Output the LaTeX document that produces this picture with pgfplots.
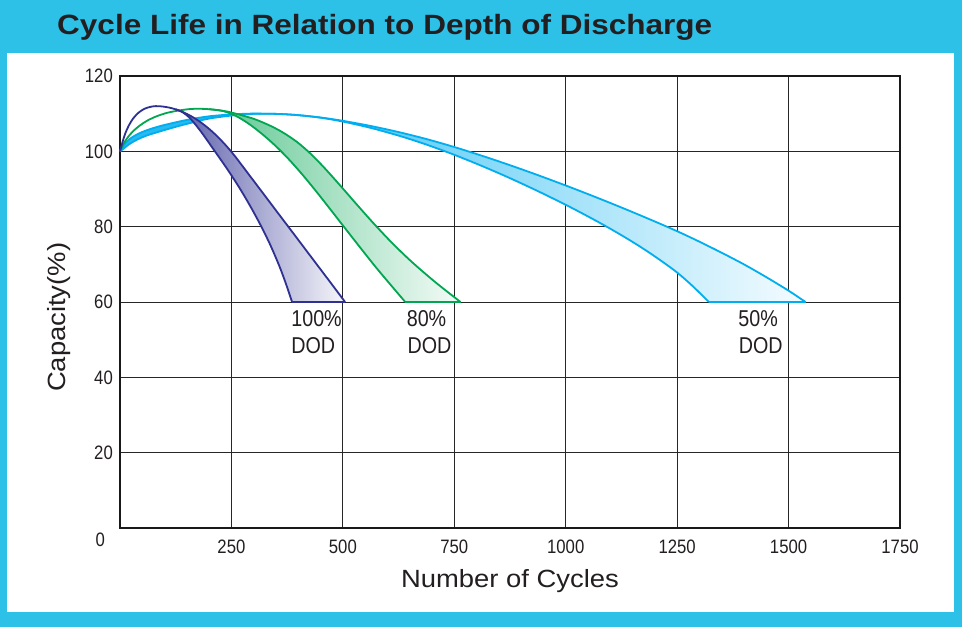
\documentclass[border=0pt]{standalone}
\usepackage{pgfplots}
\pgfplotsset{compat=1.18}
\usepackage{fontspec}
\setmainfont{Liberation Sans}
\newfontfamily\condfont{Liberation Sans}[FakeStretch=0.86]
\newfontfamily\widefont{Liberation Sans}[FakeStretch=1.1]
\newfontfamily\titlefont{Liberation Sans Bold}[FakeStretch=1.13]
\definecolor{frame}{HTML}{2EC1E8}
\definecolor{dblue}{HTML}{2E3192}
\definecolor{dgreen}{HTML}{00A651}
\definecolor{dcyan}{HTML}{00AEEF}
\definecolor{txt}{HTML}{231F20}
\begin{document}
\begin{tikzpicture}
\fill[frame] (-120bp,-99bp) rectangle (842bp,528bp);
\fill[white] (-113bp,-84bp) rectangle (834bp,475bp);
\node[anchor=base west, font=\titlefont\fontsize{28}{32}\selectfont, text=txt, inner sep=0pt] at (-63bp,493bp) {Cycle Life in Relation to Depth of Discharge};
\begin{axis}[
  scale only axis, width=780bp, height=452bp,
  at={(0,0)}, anchor=south west,
  xmin=0, xmax=1750, ymin=0, ymax=120,
  xtick={250,500,750,1000,1250,1500,1750},
  xticklabels={250,500,750,1000,1250,1500,1750},
  ytick={20,40,60,80,100,120},
  yticklabels={20,40,60,80,100,120},
  extra y ticks={0}, extra y tick labels={0},
  extra y tick style={grid=none, y tick label style={yshift=-12bp, xshift=-8bp}},
  major tick length=0pt,
  grid=major, major grid style={line width=0.9bp, color=black!85},
  axis line style={line width=1.3bp, black!90},
  tick label style={font=\condfont\fontsize{19.5}{22}\selectfont, text=txt},
  x tick label style={anchor=north, inner sep=0pt, yshift=-12bp},
  y tick label style={anchor=east, inner sep=0pt, xshift=-7bp},
  xlabel={Number of Cycles}, ylabel={Capacity(\%)},
  label style={font=\widefont\fontsize{25}{28}\selectfont, text=txt, inner sep=0pt},
  xlabel style={at={([yshift=-59bp]axis description cs:0.5,0)}, anchor=base},
  ylabel style={at={([xshift=-54bp]axis description cs:0,0.466)}, anchor=base},
  clip=false,
]
% ---------- 50% DOD (cyan) ----------
\addplot[draw=none, fill=dcyan!85] coordinates {
 (0,100) (10,101.8) (22,103.3) (40,104.6) (60,105.6) (90,106.7) (125,107.7) (157,108.5) (200,109.3) (250,109.8) (290,110) (320,110)
 (290,109.9) (250,109.5) (200,108.7) (157,107.5) (125,106.5) (90,105.3) (60,104.2) (40,103.2) (22,102) (10,100.9)} -- cycle;
\addplot[draw=none, left color=dcyan!72, right color=dcyan!4] coordinates {
 (400,109.6) (450,108.98) (500,108.1) (565,106.67) (630,104.98) (690,103.18) (750,101.14) (810,98.9) (870,96.52) (935,93.79) (1000,90.93) (1055,88.41) (1110,85.81) (1160,83.37) (1213,80.71) (1255,78.52) (1300,76.01) (1350,73.07) (1400,69.98) (1450,66.6) (1500,63.0) (1538,60)
 (1321,60) (1285,64.2) (1250,67.82) (1210,71.28) (1170,74.46) (1130,77.39) (1086,80.39) (1045,83.03) (1000,85.8) (935,89.58) (870,93.14) (810,96.21) (750,99.08) (690,101.69) (630,104.0) (565,106.15) (500,107.9) (450,108.93)} -- cycle;
\addplot[dcyan, line width=1.8bp, smooth] coordinates {
 (0,100) (10,101.8) (22,103.3) (40,104.6) (60,105.6) (90,106.7) (125,107.7) (157,108.5) (200,109.3) (250,109.8) (290,110) (320,110) (360,109.9) (400,109.6) (450,108.98) (500,108.1) (565,106.67) (630,104.98) (690,103.18) (750,101.14) (810,98.9) (870,96.52) (935,93.79) (1000,90.93) (1055,88.41) (1110,85.81) (1160,83.37) (1213,80.71) (1255,78.52) (1300,76.01) (1350,73.07) (1400,69.98) (1450,66.6) (1500,63.0) (1538,60)};
\addplot[dcyan, line width=1.8bp, smooth] coordinates {
 (0,100) (10,100.9) (22,102) (40,103.2) (60,104.2) (90,105.3) (125,106.5) (157,107.5) (200,108.7) (250,109.5) (290,109.9) (320,110) (360,109.9) (400,109.6) (450,108.93) (500,107.9) (565,106.15) (630,104.0) (690,101.69) (750,99.08) (810,96.21) (870,93.14) (935,89.58) (1000,85.8) (1045,83.03) (1086,80.39) (1130,77.39) (1170,74.46) (1210,71.28) (1250,67.82) (1285,64.2) (1321,60)};
\addplot[dcyan, line width=1.8bp] coordinates {(1321,60) (1538,60)};
% ---------- 80% DOD (green) ----------
\addplot[draw=none, left color=dgreen!60, right color=dgreen!4] coordinates {
 (230,110.75) (250,110.3) (300,108.63) (340,106.63) (370,104.68) (400,102.22) (430,99.09) (460,95.43) (494,90.93) (531,85.92) (569,80.87) (611,75.61) (655,70.61) (708,65.21) (764,60)
 (640,60) (580,68.37) (540,74.29) (500,80.33) (470,84.89) (440,89.39) (410,93.71) (380,97.73) (350,101.33) (320,104.48) (290,107.23) (260,109.4)} -- cycle;
\addplot[dgreen, line width=1.8bp, smooth] coordinates {
 (0,100) (8,102) (18,103.8) (30,105.4) (45,106.9) (62,108.2) (82,109.3) (105,110.2) (130,110.8) (155,111.2) (175,111.3) (200,111.18) (230,110.75) (250,110.3) (300,108.63) (340,106.63) (370,104.68) (400,102.22) (430,99.09) (460,95.43) (494,90.93) (531,85.92) (569,80.87) (611,75.61) (655,70.61) (708,65.21) (764,60)};
\addplot[dgreen, line width=1.8bp, smooth] coordinates {
 (200,111.18) (230,110.75) (260,109.4) (290,107.23) (320,104.48) (350,101.33) (380,97.73) (410,93.71) (440,89.39) (470,84.89) (500,80.33) (540,74.29) (580,68.37) (640,60)};
\addplot[dgreen, line width=1.8bp] coordinates {(640,60) (764,60)};
% ---------- 100% DOD (dark blue) ----------
\addplot[draw=none, left color=dblue!75, right color=dblue!4] coordinates {
 (140,110.49) (160,109.31) (180,107.8) (200,105.95) (220,103.77) (240,101.25) (255,99.14) (270,96.84) (300,92.14) (330,87.44) (360,82.74) (390,78.05) (420,73.35) (450,68.65) (480,63.95) (505,60)
 (386,60) (373,64.6) (358,69.4) (337,75.2) (315,80.5) (292,85.5) (268,90.3) (240,95.4) (207,101.0) (185,104.7) (170,107.0) (155,109.05)} -- cycle;
\addplot[dblue, line width=1.8bp, smooth] coordinates {
 (0,100) (6,102.6) (12,104.8) (20,106.9) (30,108.8) (42,110.3) (55,111.3) (68,111.8) (80,112) (95,111.91) (110,111.62) (125,111.15) (140,110.49) (160,109.31) (180,107.8) (200,105.95) (220,103.77) (240,101.25) (255,99.14) (270,96.84) (300,92.14) (330,87.44) (360,82.74) (390,78.05) (420,73.35) (450,68.65) (480,63.95) (505,60)};
\addplot[dblue, line width=1.8bp, smooth] coordinates {
 (125,111.15) (140,110.4) (155,109.05) (170,107.0) (185,104.7) (207,101.0) (240,95.4) (268,90.3) (292,85.5) (315,80.5) (337,75.2) (358,69.4) (373,64.6) (386,60)};
\addplot[dblue, line width=1.8bp] coordinates {(386,60) (505,60)};
% ---------- labels ----------
\node[anchor=base west, inner sep=0pt, font=\condfont\fontsize{23}{26}\selectfont, text=txt] at (axis cs:384,53.5) {100\%};
\node[anchor=base west, inner sep=0pt, font=\condfont\fontsize{23}{26}\selectfont, text=txt] at (axis cs:384,46.4) {DOD};
\node[anchor=base west, inner sep=0pt, font=\condfont\fontsize{23}{26}\selectfont, text=txt] at (axis cs:643,53.5) {80\%};
\node[anchor=base west, inner sep=0pt, font=\condfont\fontsize{23}{26}\selectfont, text=txt] at (axis cs:645,46.4) {DOD};
\node[anchor=base west, inner sep=0pt, font=\condfont\fontsize{23}{26}\selectfont, text=txt] at (axis cs:1387,53.5) {50\%};
\node[anchor=base west, inner sep=0pt, font=\condfont\fontsize{23}{26}\selectfont, text=txt] at (axis cs:1388,46.4) {DOD};
\end{axis}
\pgfresetboundingbox
\useasboundingbox (-120bp,-99bp) rectangle (842bp,528bp);
\end{tikzpicture}
\end{document}
